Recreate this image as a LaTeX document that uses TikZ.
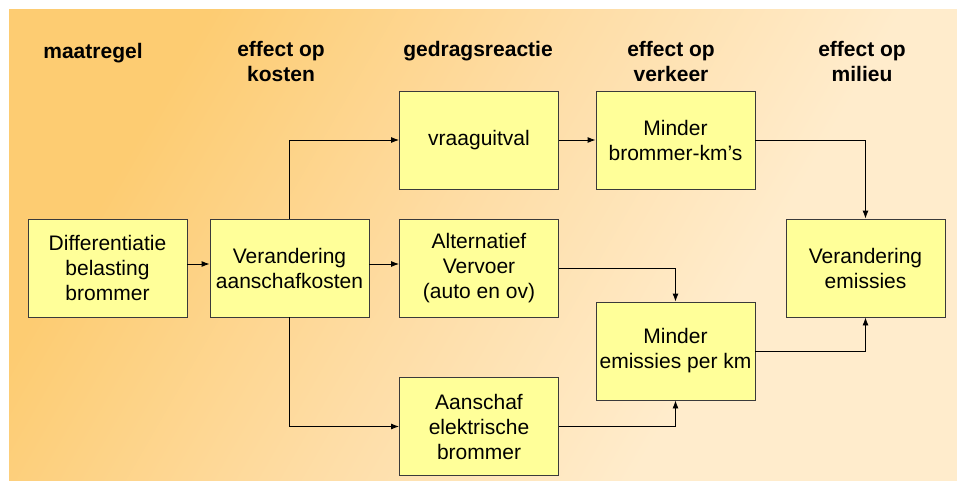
\documentclass[tikz,border=0pt]{standalone}
\usepackage{fontspec}
\setmainfont{Liberation Sans}
\usetikzlibrary{arrows.meta}

\definecolor{bgA}{HTML}{FDCC72}
\definecolor{bgB}{HTML}{FEDDA6}
\definecolor{bgC}{HTML}{FFECCC}
\definecolor{boxfill}{HTML}{FFFF99}
\definecolor{boxline}{HTML}{3A3A3A}

% warm backdrop, orange at the top left fading to cream towards the right
\pgfdeclarehorizontalshading{bgshade}{100bp}{color(0bp)=(bgA); color(27bp)=(bgA); color(48bp)=(bgB); color(66bp)=(bgC); color(100bp)=(bgC)}

\begin{document}
\begin{tikzpicture}[x=1pt,y=-1pt,
  block/.style={draw=boxline, fill=boxfill, line width=0.9pt,
    minimum width=159pt, minimum height=98pt, inner sep=0pt,
    align=center, font=\fontsize{21}{25}\selectfont},
  head/.style={font=\fontsize{21}{25}\selectfont\bfseries,
    align=center, inner sep=0pt, anchor=north},
  link/.style={-{Latex[length=8pt,width=6pt]}, line width=0.9pt}]

\useasboundingbox (0,0) rectangle (957,481);
\fill[white] (0,0) rectangle (957,481);
\begin{scope}[y=1pt]
  \shade[shading=bgshade, shading angle=-30] (9,-10) rectangle (957,-481);
\end{scope}

% column headings
\node[head] (hmaat) at (93,43) {maatregel};
\node[head] (hkost) at (281,41.5) {effect op\\kosten};
\node[head] (hgedr) at (478,41.5) {gedragsreactie};
\node[head] (hverk) at (671,41.5) {effect op\\verkeer};
\node[head] (hmil)  at (862,41.5) {effect op\\milieu};

% boxes
\node[block] (diff)   at (107.5,268) {Differentiatie\\belasting\\brommer};
\node[block] (kost)   at (289.5,268) {Verandering\\aanschafkosten};
\node[block] (vraag)  at (479,140)   {vraaguitval};
\node[block] (alt)    at (479,268)   {Alternatief\\Vervoer\\(auto en ov)};
\node[block] (aansch) at (479,426.5) {Aanschaf\\elektrische\\brommer};
\node[block] (kmb)    at (675.5,140) {Minder\\brommer-km’s};
\node[block] (emk)    at (675.5,351) {Minder\\emissies per km};
\node[block] (verem)  at (865.5,268) {Verandering\\emissies};

% connectors
\draw[link] ([yshift=4pt]diff.east) -- ([yshift=4pt]kost.west);
\draw[link] ([yshift=4pt]kost.east) -- ([yshift=4pt]alt.west);
\draw[link] (kost.north) |- (vraag.west);
\draw[link] (kost.south) |- (aansch.west);
\draw[link] (vraag.east) -- (kmb.west);
\draw[link] (kmb.east) -| (verem.north);
\draw[link] (alt.east) -| (emk.north);
\draw[link] (aansch.east) -| (emk.south);
\draw[link] (emk.east) -| (verem.south);
\end{tikzpicture}
\end{document}
